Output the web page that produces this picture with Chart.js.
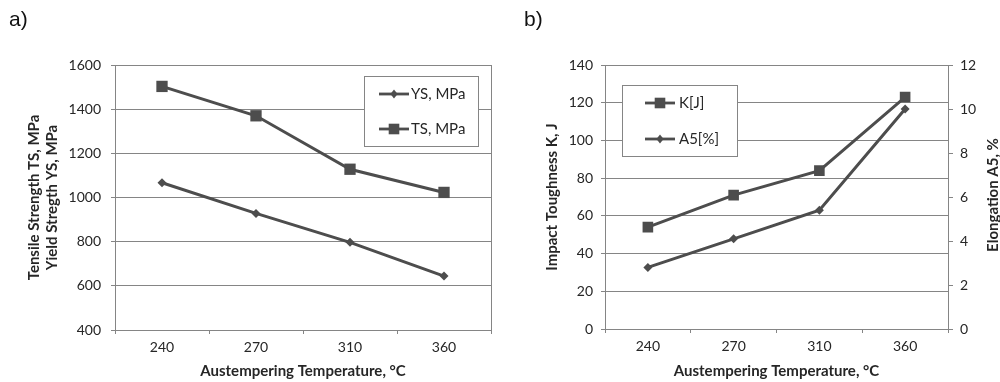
<!DOCTYPE html>
<html>
<head>
<meta charset="utf-8">
<script src="https://cdn.jsdelivr.net/npm/chart.js@4.4.1/dist/chart.umd.min.js"></script>
<style>
    body { margin: 0; background: #fff; width: 1000px; height: 382px; overflow: hidden; position: relative; }
    .panel { position: absolute; top: 0; width: 500px; height: 382px; }
    .tag { position: absolute; top: 7px; font-family: 'Liberation Sans', Arial, sans-serif; font-size: 21px; color: #111; }
</style>
</head>
<body>
<div class="panel" style="left:0"><canvas id="chartA" width="500" height="382"></canvas></div>
<div class="panel" style="left:500px"><canvas id="chartB" width="500" height="382"></canvas></div>
<div class="tag" style="left:9px">a)</div>
<div class="tag" style="left:524px">b)</div>

<script>
// Austempering temperatures (categories)
const temps = ['240', '270', '310', '360'];

// Panel a) strength values, MPa
const ysMPa = [1067, 928, 797, 644];
const tsMPa = [1503, 1370, 1128, 1023];

// Panel b) impact toughness (J) and elongation (%)
const impactK = [54, 71, 84, 123];
const elongA5 = [2.8, 4.1, 5.4, 10.0];

// Axis ranges: min, max, step
const strengthRange = [400, 1600, 200];
const impactRange = [0, 140, 20];
const elongRange = [0, 12, 2];

const GRID = '#858585';
const LINE = '#4d4d4d';
const TEXT = '#262626';
const FONT = 'Lato';

// Plot area frame (Excel style box)
const frame = {
    id: 'frame',
    beforeDatasetsDraw(chart) {
        const { ctx, chartArea: a } = chart;
        ctx.save();
        ctx.strokeStyle = GRID;
        ctx.lineWidth = 1;
        ctx.strokeRect(Math.round(a.left) + 0.5, Math.round(a.top) + 0.5,
            Math.round(a.right - a.left), Math.round(a.bottom - a.top));
        ctx.restore();
    }
};

function drawMarker(ctx, style, x, y, r) {
    ctx.beginPath();
    if (style === 'rect') {
        const s = Math.SQRT1_2 * r;
        ctx.rect(x - s, y - s, 2 * s, 2 * s);
    } else {
        ctx.moveTo(x, y - r);
        ctx.lineTo(x + r * 0.8, y);
        ctx.lineTo(x, y + r);
        ctx.lineTo(x - r * 0.8, y);
        ctx.closePath();
    }
    ctx.fill();
}

// Boxed legend inside the plot
const boxLegend = {
    id: 'boxLegend',
    afterDraw(chart, args, opts) {
        const ctx = chart.ctx;
        ctx.save();
        ctx.fillStyle = '#fff';
        ctx.fillRect(opts.left, opts.top, opts.width, opts.height);
        ctx.strokeStyle = GRID;
        ctx.lineWidth = 1;
        ctx.strokeRect(opts.left + 0.5, opts.top + 0.5, opts.width, opts.height);
        opts.order.forEach((di, row) => {
            const ds = chart.data.datasets[di];
            const y = opts.top + opts.rows[row];
            const x0 = opts.left + opts.lineFrom;
            const x1 = opts.left + opts.lineTo;
            ctx.strokeStyle = LINE;
            ctx.lineWidth = 2.8;
            ctx.beginPath();
            ctx.moveTo(x0, y);
            ctx.lineTo(x1, y);
            ctx.stroke();
            ctx.fillStyle = LINE;
            drawMarker(ctx, ds.pointStyle, (x0 + x1) / 2, y, ds.pointStyle === 'rect' ? 7.5 : 4.5);
            ctx.fillStyle = TEXT;
            ctx.font = '15px ' + FONT;
            ctx.textBaseline = 'middle';
            ctx.fillText(ds.label, opts.left + opts.textX, y);
        });
        ctx.restore();
    }
};

// Right-hand axis title reading bottom to top
const sideTitle = {
    id: 'sideTitle',
    afterDraw(chart, args, opts) {
        if (!opts.text) return;
        const s = chart.scales[opts.scale];
        const ctx = chart.ctx;
        ctx.save();
        ctx.translate(s.right - opts.inset, (s.top + s.bottom) / 2 + opts.shift);
        ctx.rotate(-Math.PI / 2);
        ctx.fillStyle = TEXT;
        ctx.font = 'bold 15px ' + FONT;
        ctx.textAlign = 'center';
        ctx.textBaseline = 'middle';
        ctx.fillText(opts.text, 0, 0);
        ctx.restore();
    }
};

function lineSet(label, data, style, radius, axis) {
    return {
        label: label,
        data: data,
        yAxisID: axis,
        borderColor: LINE,
        backgroundColor: LINE,
        borderWidth: 3,
        pointStyle: style,
        pointRadius: radius,
        pointBorderWidth: 0,
        pointBackgroundColor: LINE,
        tension: 0
    };
}

function xScale(height) {
    return {
        offset: true,
        grid: { offset: true, drawOnChartArea: false, tickLength: 4, color: GRID },
        border: { color: GRID },
        ticks: { color: TEXT, font: { family: FONT, size: 14 }, padding: 5 },
        title: {
            display: true,
            text: 'Austempering Temperature, °C',
            color: TEXT,
            font: { family: FONT, size: 15, weight: 'bold' },
            padding: { top: 2, bottom: 2 }
        },
        afterFit: s => { s.height = height; }
    };
}

function valueScale(range, width, pad, title) {
    return {
        position: 'left',
        min: range[0],
        max: range[1],
        grid: { color: GRID, tickLength: 4 },
        border: { color: GRID },
        ticks: {
            stepSize: range[2],
            color: TEXT,
            font: { family: FONT, size: 14 },
            padding: pad,
            callback: v => String(v)
        },
        title: {
            display: true,
            text: title,
            color: TEXT,
            font: { family: FONT, size: 15, weight: 'bold' },
            padding: { top: 3, bottom: 3 }
        },
        afterFit: s => { s.width = width; }
    };
}

// Panel a)
new Chart(document.getElementById('chartA'), {
    type: 'line',
    data: {
        labels: temps,
        datasets: [
            lineSet('YS, MPa', ysMPa, 'rectRot', 4.5, 'y'),
            lineSet('TS, MPa', tsMPa, 'rect', 8, 'y')
        ]
    },
    options: {
        responsive: false,
        animation: false,
        layout: { padding: { left: 22, right: 9, top: 65, bottom: 0 } },
        plugins: {
            legend: { display: false },
            tooltip: { enabled: false },
            boxLegend: { left: 364, top: 76, width: 114, height: 70, lineFrom: 15, lineTo: 45, textX: 47, rows: [18, 53], order: [0, 1] }
        },
        scales: {
            x: xScale(52),
            y: valueScale(strengthRange, 93, 10, ['Tensile Strength TS, MPa', 'Yield Stregth YS, MPa'])
        }
    },
    plugins: [frame, boxLegend]
});

// Panel b)
const yB = valueScale(impactRange, 65, 8, 'Impact Toughness K, J');
const y1B = valueScale(elongRange, 52, 7, '');
y1B.position = 'right';
y1B.grid = { drawOnChartArea: false, tickLength: 5, color: GRID };
y1B.title = { display: false };

new Chart(document.getElementById('chartB'), {
    type: 'line',
    data: {
        labels: temps,
        datasets: [
            lineSet('K[J]', impactK, 'rect', 7.5, 'y'),
            lineSet('A5[%]', elongA5, 'rectRot', 4.5, 'y1')
        ]
    },
    options: {
        responsive: false,
        animation: false,
        layout: { padding: { left: 40, right: 0, top: 65, bottom: 0 } },
        plugins: {
            legend: { display: false },
            tooltip: { enabled: false },
            boxLegend: { left: 122, top: 85, width: 115, height: 71, lineFrom: 23, lineTo: 53, textX: 57, rows: [18, 54], order: [0, 1] },
            sideTitle: { text: 'Elongation A5, %', scale: 'y1', inset: 7, shift: -2 }
        },
        scales: {
            x: xScale(53),
            y: yB,
            y1: y1B
        }
    },
    plugins: [frame, boxLegend, sideTitle]
});
</script>
</body>
</html>
